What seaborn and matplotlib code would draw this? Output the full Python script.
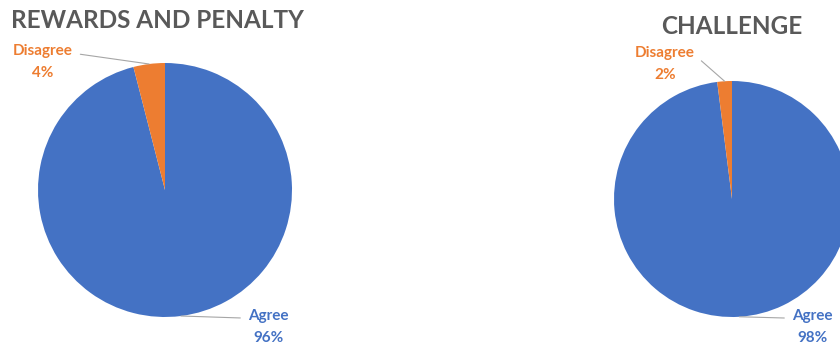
import numpy as np
import matplotlib
matplotlib.use("Agg")
import matplotlib.pyplot as plt
import seaborn as sns

# data
categories = ["Agree", "Disagree"]
rewards_pct = [96, 4]
challenge_pct = [98, 2]
titles = ["REWARDS AND PENALTY", "CHALLENGE"]

colors = ["#4472C4", "#ED7D31"]
title_color = "#595959"
line_color = "#A6A6A6"

sns.set_theme(style="white")
plt.rcParams["font.family"] = ["Lato", "DejaVu Sans"]

W, H = 840, 345
fig = plt.figure(figsize=(W / 100, H / 100), dpi=100)


def px_axes(cx, cy, r):
    # square axes around a pie, given centre / radius in image pixels (y from top)
    return fig.add_axes([(cx - r) / W, (H - cy - r) / H, 2 * r / W, 2 * r / H])


def draw_pie(cx, cy, r, values, title, title_xy, label_xy):
    ax = px_axes(cx, cy, r)
    wedges, _ = ax.pie(values, colors=colors, startangle=90, counterclock=False,
                       radius=1, wedgeprops=dict(linewidth=0))
    ax.set_xlim(-1, 1)
    ax.set_ylim(-1, 1)
    ax.set_aspect("equal")
    ax.axis("off")
    for w, cat, v, (tx, ty), rel in zip(wedges, categories, values, label_xy,
                                        [(0, 0.75), (1, 0.75)]):
        ang = np.deg2rad((w.theta1 + w.theta2) / 2)
        ax.annotate(f"{cat}\n{v}%", xy=(np.cos(ang), np.sin(ang)), xycoords="data",
                    xytext=(tx, H - ty), textcoords="figure pixels",
                    ha="center", va="center", fontsize=11, fontweight="bold",
                    color=w.get_facecolor(), linespacing=1.65,
                    annotation_clip=False,
                    arrowprops=dict(arrowstyle="-", color=line_color, lw=0.8,
                                    shrinkA=3, shrinkB=0, relpos=rel))
    fig.text(title_xy[0] / W, 1 - title_xy[1] / H, title, ha="center", va="center",
             fontsize=17.5, fontweight="bold", color=title_color)


draw_pie(165, 190, 127, rewards_pct, titles[0], (157, 21),
         [(268, 327), (43, 62)])
draw_pie(732, 199, 118, challenge_pct, titles[1], (732, 27),
         [(812, 327), (665, 64)])

fig.savefig("out.png", dpi=100)
